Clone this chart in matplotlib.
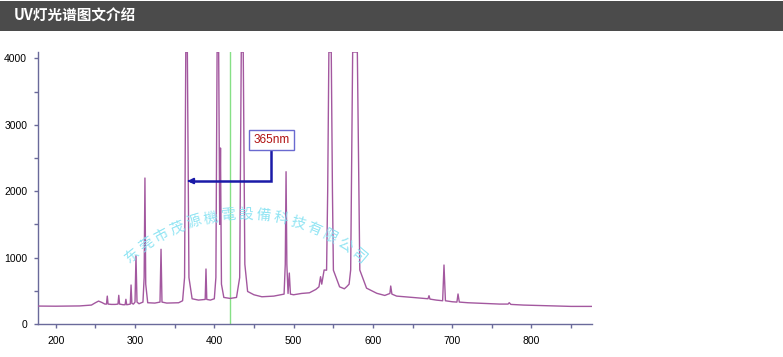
import matplotlib
matplotlib.use("Agg")
import matplotlib.pyplot as plt
from matplotlib.ticker import MultipleLocator
from matplotlib.patches import Rectangle
import numpy as np

# ---------------- data ----------------
wavelength = [178, 200, 230, 245, 250, 254, 258, 262, 264, 265, 266, 270, 275,
              278.5, 279.5, 280.5, 285, 287.5, 288.5, 289.5, 292, 294, 295, 296,
              298, 300, 301.2, 302.5, 305, 310, 311.5, 312.5, 313.5, 316, 325,
              331.5, 332.8, 334, 340, 355, 360, 362.5, 364, 366, 368, 372, 380,
              388.5, 389.5, 390.5, 395, 400, 402, 403.5, 405.5, 406.8, 407.8,
              409, 412, 420, 428, 432, 434, 436.5, 438.5, 442, 450, 460, 475,
              488, 489.5, 490.5, 491.5, 493, 494.6, 496, 500, 510, 520, 528,
              532, 534, 535.5, 538.5, 541.6, 543, 544.5, 547.5, 549, 550.2, 558,
              564, 567, 570, 572, 574.5, 580.4, 583.5, 592, 605, 615, 621.5,
              622.5, 624, 630, 650, 669.5, 670.8, 672, 680, 688, 689.7, 691.5,
              700, 706, 707.4, 709, 720, 740, 760, 770.5, 772, 774, 790, 820,
              850, 876]
intensity = [270, 268, 272, 285, 320, 345, 325, 300, 300, 420, 300, 295, 295,
             300, 432, 300, 290, 290, 372, 290, 295, 300, 587, 310,
             300, 330, 1028, 330, 305, 330, 700, 2198, 600, 320, 315,
             330, 1125, 330, 315, 320, 350, 700, 4095, 4095, 700, 380, 360,
             370, 828, 370, 360, 380, 700, 4095, 4095, 1500, 2650,
             600, 400, 385, 400, 700, 4095, 4095, 900, 490, 440, 410, 420,
             450, 900, 2293, 900, 460, 767, 450, 440, 460, 470, 520,
             560, 712, 600, 813, 810, 2000, 4095, 4095, 2000, 810, 560,
             530, 562, 600, 813, 4095, 4095, 813, 540, 462, 430, 460,
             572, 450, 420, 400, 380, 426, 375, 360, 350, 888, 350,
             335, 330, 452, 330, 320, 310, 300, 300, 321, 295, 285, 275,
             265, 265]

x_ticks = [200, 300, 400, 500, 600, 700, 800]
y_ticks = [0, 1000, 2000, 3000, 4000]
marker_nm = 420
label_text = "365nm"
label_pos = (472, 2775)
arrow_start = (471.5, 2605)
arrow_corner = (471.5, 2153)
arrow_end = (366, 2153)
watermark = "东莞市茂源機電設備科技有限公司"
header = "UV灯光谱图文介绍"

# ---------------- figure ----------------
W, H = 783, 357
fig = plt.figure(figsize=(W / 100, H / 100), dpi=100)
fig.patch.set_facecolor("white")

# header bar
fig.patches.append(Rectangle((0, 1 - 31 / H), 1, 30 / H, transform=fig.transFigure,
                             facecolor="#4b4b4b", edgecolor="none", zorder=0))
fig.text(14 / W, 1 - 16 / H, header, color="white", fontsize=10.5, fontweight="bold",
         family=["Noto Sans CJK SC", "DejaVu Sans"], va="center", ha="left")

ax = fig.add_axes([38.3 / W, (H - 324) / H, (591.7 - 38.3) / W, (324 - 51.7) / H])
ax.set_xlim(178, 876)
ax.set_ylim(0, 4100)

axis_col = "#6a6a9a"
for s in ["top", "right"]:
    ax.spines[s].set_visible(False)
for s in ["left", "bottom"]:
    ax.spines[s].set_color(axis_col)
    ax.spines[s].set_linewidth(1.0)

ax.set_xticks(x_ticks)
ax.set_yticks(y_ticks)
ax.xaxis.set_minor_locator(MultipleLocator(50))
ax.yaxis.set_minor_locator(MultipleLocator(500))
ax.tick_params(which="both", direction="out", length=3, width=1, color=axis_col,
               labelsize=7.5, labelcolor="black")
ax.tick_params(axis="y", pad=5)
ax.tick_params(axis="x", pad=6)
for lab in ax.get_xticklabels() + ax.get_yticklabels():
    lab.set_family("Liberation Sans")

# green marker line
ax.axvline(marker_nm, color="#86e086", lw=1.0, zorder=1)

# spectrum
ax.plot(wavelength, intensity, color="#a3589f", lw=1.0, zorder=3, clip_on=True)

# annotation arrow
ax.plot([arrow_start[0], arrow_corner[0], arrow_end[0] + 4],
        [arrow_start[1], arrow_corner[1], arrow_corner[1]],
        color="#1a1aa8", lw=1.8, zorder=5, solid_joinstyle="miter")
ax.annotate("", xy=arrow_end, xytext=(arrow_end[0] + 6, arrow_end[1]),
            arrowprops=dict(arrowstyle="-|>", color="#1a1aa8", lw=1.5,
                            mutation_scale=8), zorder=5)
ax.text(label_pos[0], label_pos[1], label_text, color="#b01010", fontsize=8.5,
        family="Liberation Sans", ha="center", va="center", zorder=6,
        bbox=dict(boxstyle="square,pad=0.35", facecolor="white",
                  edgecolor="#6a6ad0", lw=1.0))

# watermark along an arc
cx, cy, R = 245, 392, 177
n = len(watermark)
angles = np.linspace(-39.5, 40, n)
for ch, a in zip(watermark, angles):
    px = cx + R * np.sin(np.radians(a))
    py = cy - R * np.cos(np.radians(a))
    fig.text(px / W, 1 - py / H, ch, color="#86e2f2", fontsize=10.5, alpha=0.9,
             family=["Noto Sans CJK SC", "DejaVu Sans"], rotation=-a,
             ha="center", va="center", zorder=10)

fig.savefig("out.png", dpi=100, facecolor="white")
